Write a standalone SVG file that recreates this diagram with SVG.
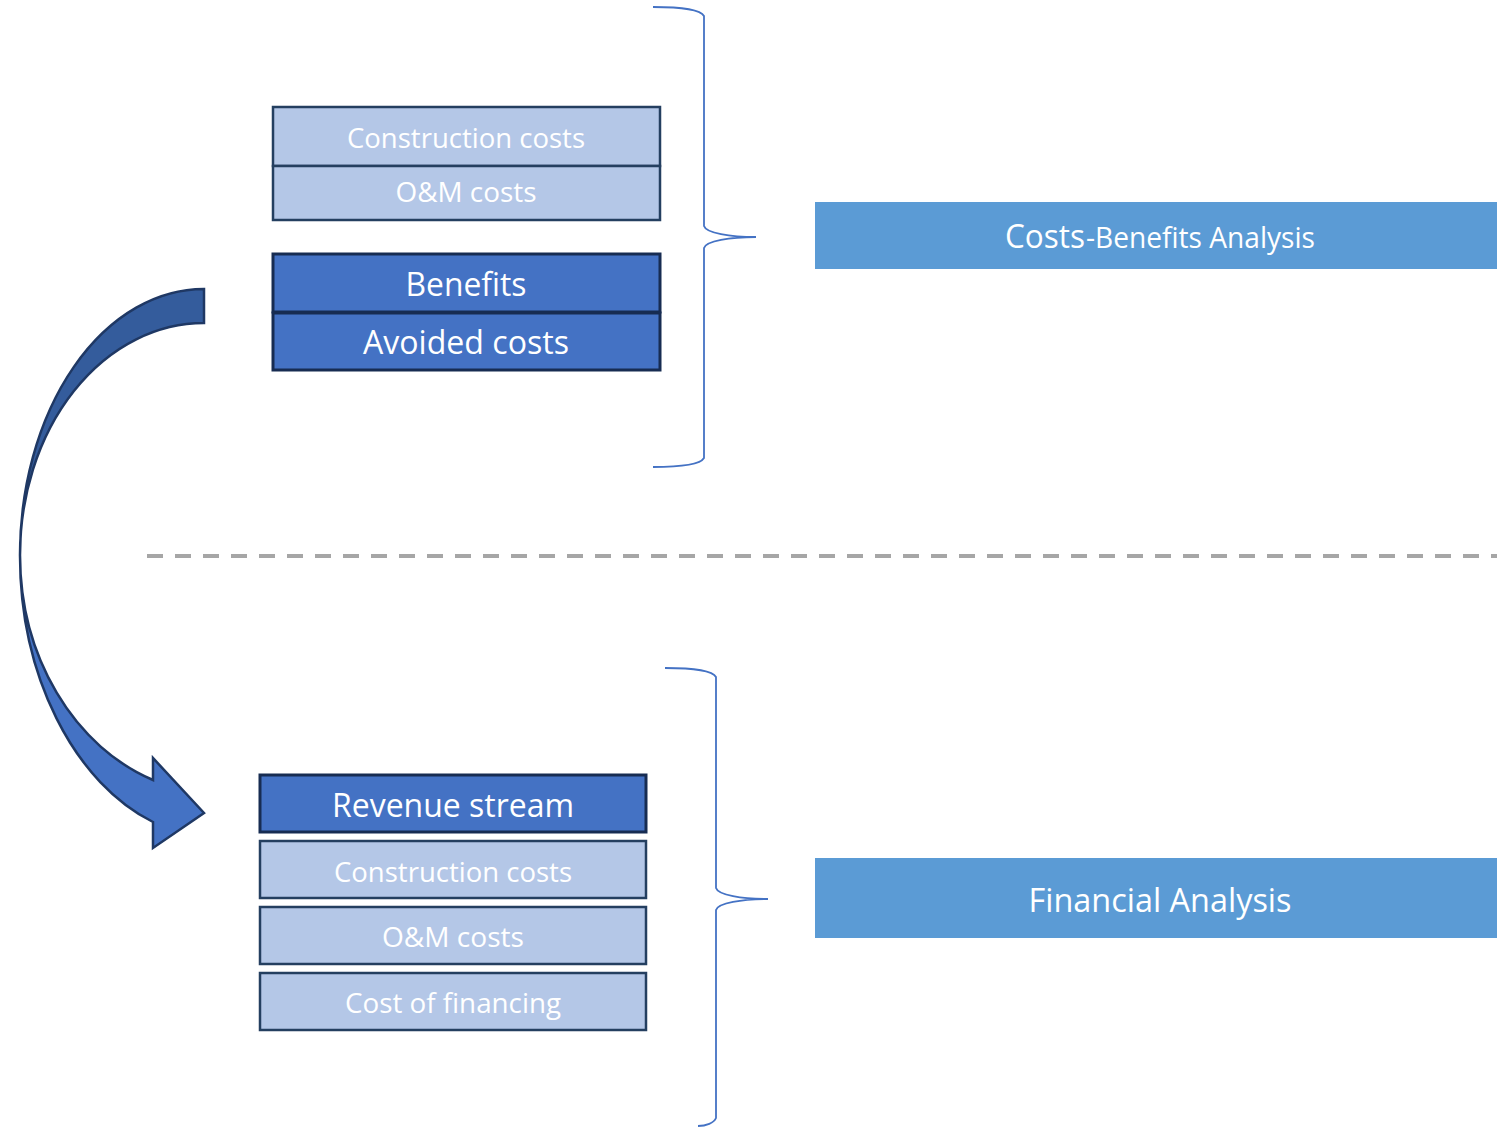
<svg xmlns="http://www.w3.org/2000/svg" width="1497" height="1127" viewBox="0 0 1497 1127">
<style>
.light{fill:#b4c7e7;stroke:#243f60;stroke-width:2.5}
.dark{fill:#4472c4;stroke:#172c52;stroke-width:3}
.band{fill:#5b9bd5}
.brace{fill:none;stroke:#4472c4;stroke-width:1.8}
text{font-family:"Open Sans","Noto Sans",sans-serif;fill:#ffffff;text-anchor:middle}
.s{font-size:28px}
.l{font-size:32.5px}
</style>
<rect width="1497" height="1127" fill="#ffffff"/>
<g id="separator">
<line x1="147" y1="556" x2="1497" y2="556" stroke="#a6a6a6" stroke-width="4" stroke-dasharray="16 12"/>
</g>
<g id="connectors">
<path id="brace-top" class="brace" d="M653,7 C680,7 700,9 704,16 L704,226 C706,233 730,237 756,237 C730,237 706,241 704,248 L704,458 C700,465 680,467 653,467"/>
<path id="brace-bottom" class="brace" d="M665,668 C692,668 712,670 716,677 L716,888 C718,895 742,899 768,899 C742,899 718,903 716,910 L716,1118 C714,1123 706,1126 698,1126"/>
<g id="curved-arrow" stroke="#1f3864" stroke-width="2.5" stroke-linejoin="miter">
<path fill="#345c9c" d="M204,289 A184,266 0 0 0 20,555 A184,232 0 0 1 204,323 Z"/>
<path fill="#4472c4" d="M20,555 A200,283 0 0 0 153,822 L153,848 L204,813 L153,758 L153,780 A200,239 0 0 1 20,555 Z"/>
</g>
</g>
<g id="node-cba-construction">
<rect class="light" x="273" y="107" width="387" height="59"/>
<text class="s" x="466" y="148" textLength="238" lengthAdjust="spacingAndGlyphs">Construction costs</text>
</g>
<g id="node-cba-om">
<rect class="light" x="273" y="166" width="387" height="54"/>
<text class="s" x="466" y="202" textLength="141" lengthAdjust="spacingAndGlyphs">O&amp;M costs</text>
</g>
<g id="node-benefits">
<rect class="dark" x="273" y="254" width="387" height="58"/>
<text class="l" x="466" y="296" textLength="121" lengthAdjust="spacingAndGlyphs">Benefits</text>
</g>
<g id="node-avoided">
<rect class="dark" x="273" y="313" width="387" height="57"/>
<text class="l" x="466" y="354" textLength="206" lengthAdjust="spacingAndGlyphs">Avoided costs</text>
</g>
<g id="node-cba-label">
<rect class="band" x="815" y="202" width="682" height="67"/>
<text x="1005" y="248" style="font-size:33px;text-anchor:start" textLength="80" lengthAdjust="spacingAndGlyphs">Costs</text>
<text x="1086" y="248" style="font-size:28.5px;text-anchor:start" textLength="229" lengthAdjust="spacingAndGlyphs">-Benefits Analysis</text>
</g>
<g id="node-revenue">
<rect class="dark" x="260" y="775" width="386" height="57"/>
<text class="l" x="453" y="817" textLength="242" lengthAdjust="spacingAndGlyphs">Revenue stream</text>
</g>
<g id="node-fa-construction">
<rect class="light" x="260" y="841" width="386" height="57"/>
<text class="s" x="453" y="882" textLength="238" lengthAdjust="spacingAndGlyphs">Construction costs</text>
</g>
<g id="node-fa-om">
<rect class="light" x="260" y="907" width="386" height="57"/>
<text class="s" x="453" y="947" textLength="142" lengthAdjust="spacingAndGlyphs">O&amp;M costs</text>
</g>
<g id="node-financing">
<rect class="light" x="260" y="973" width="386" height="57"/>
<text class="s" x="453" y="1013" textLength="216" lengthAdjust="spacingAndGlyphs">Cost of financing</text>
</g>
<g id="node-fa-label">
<rect class="band" x="815" y="858" width="682" height="80"/>
<text class="l" x="1160" y="912" style="font-size:33px" textLength="263" lengthAdjust="spacingAndGlyphs">Financial Analysis</text>
</g>
</svg>
